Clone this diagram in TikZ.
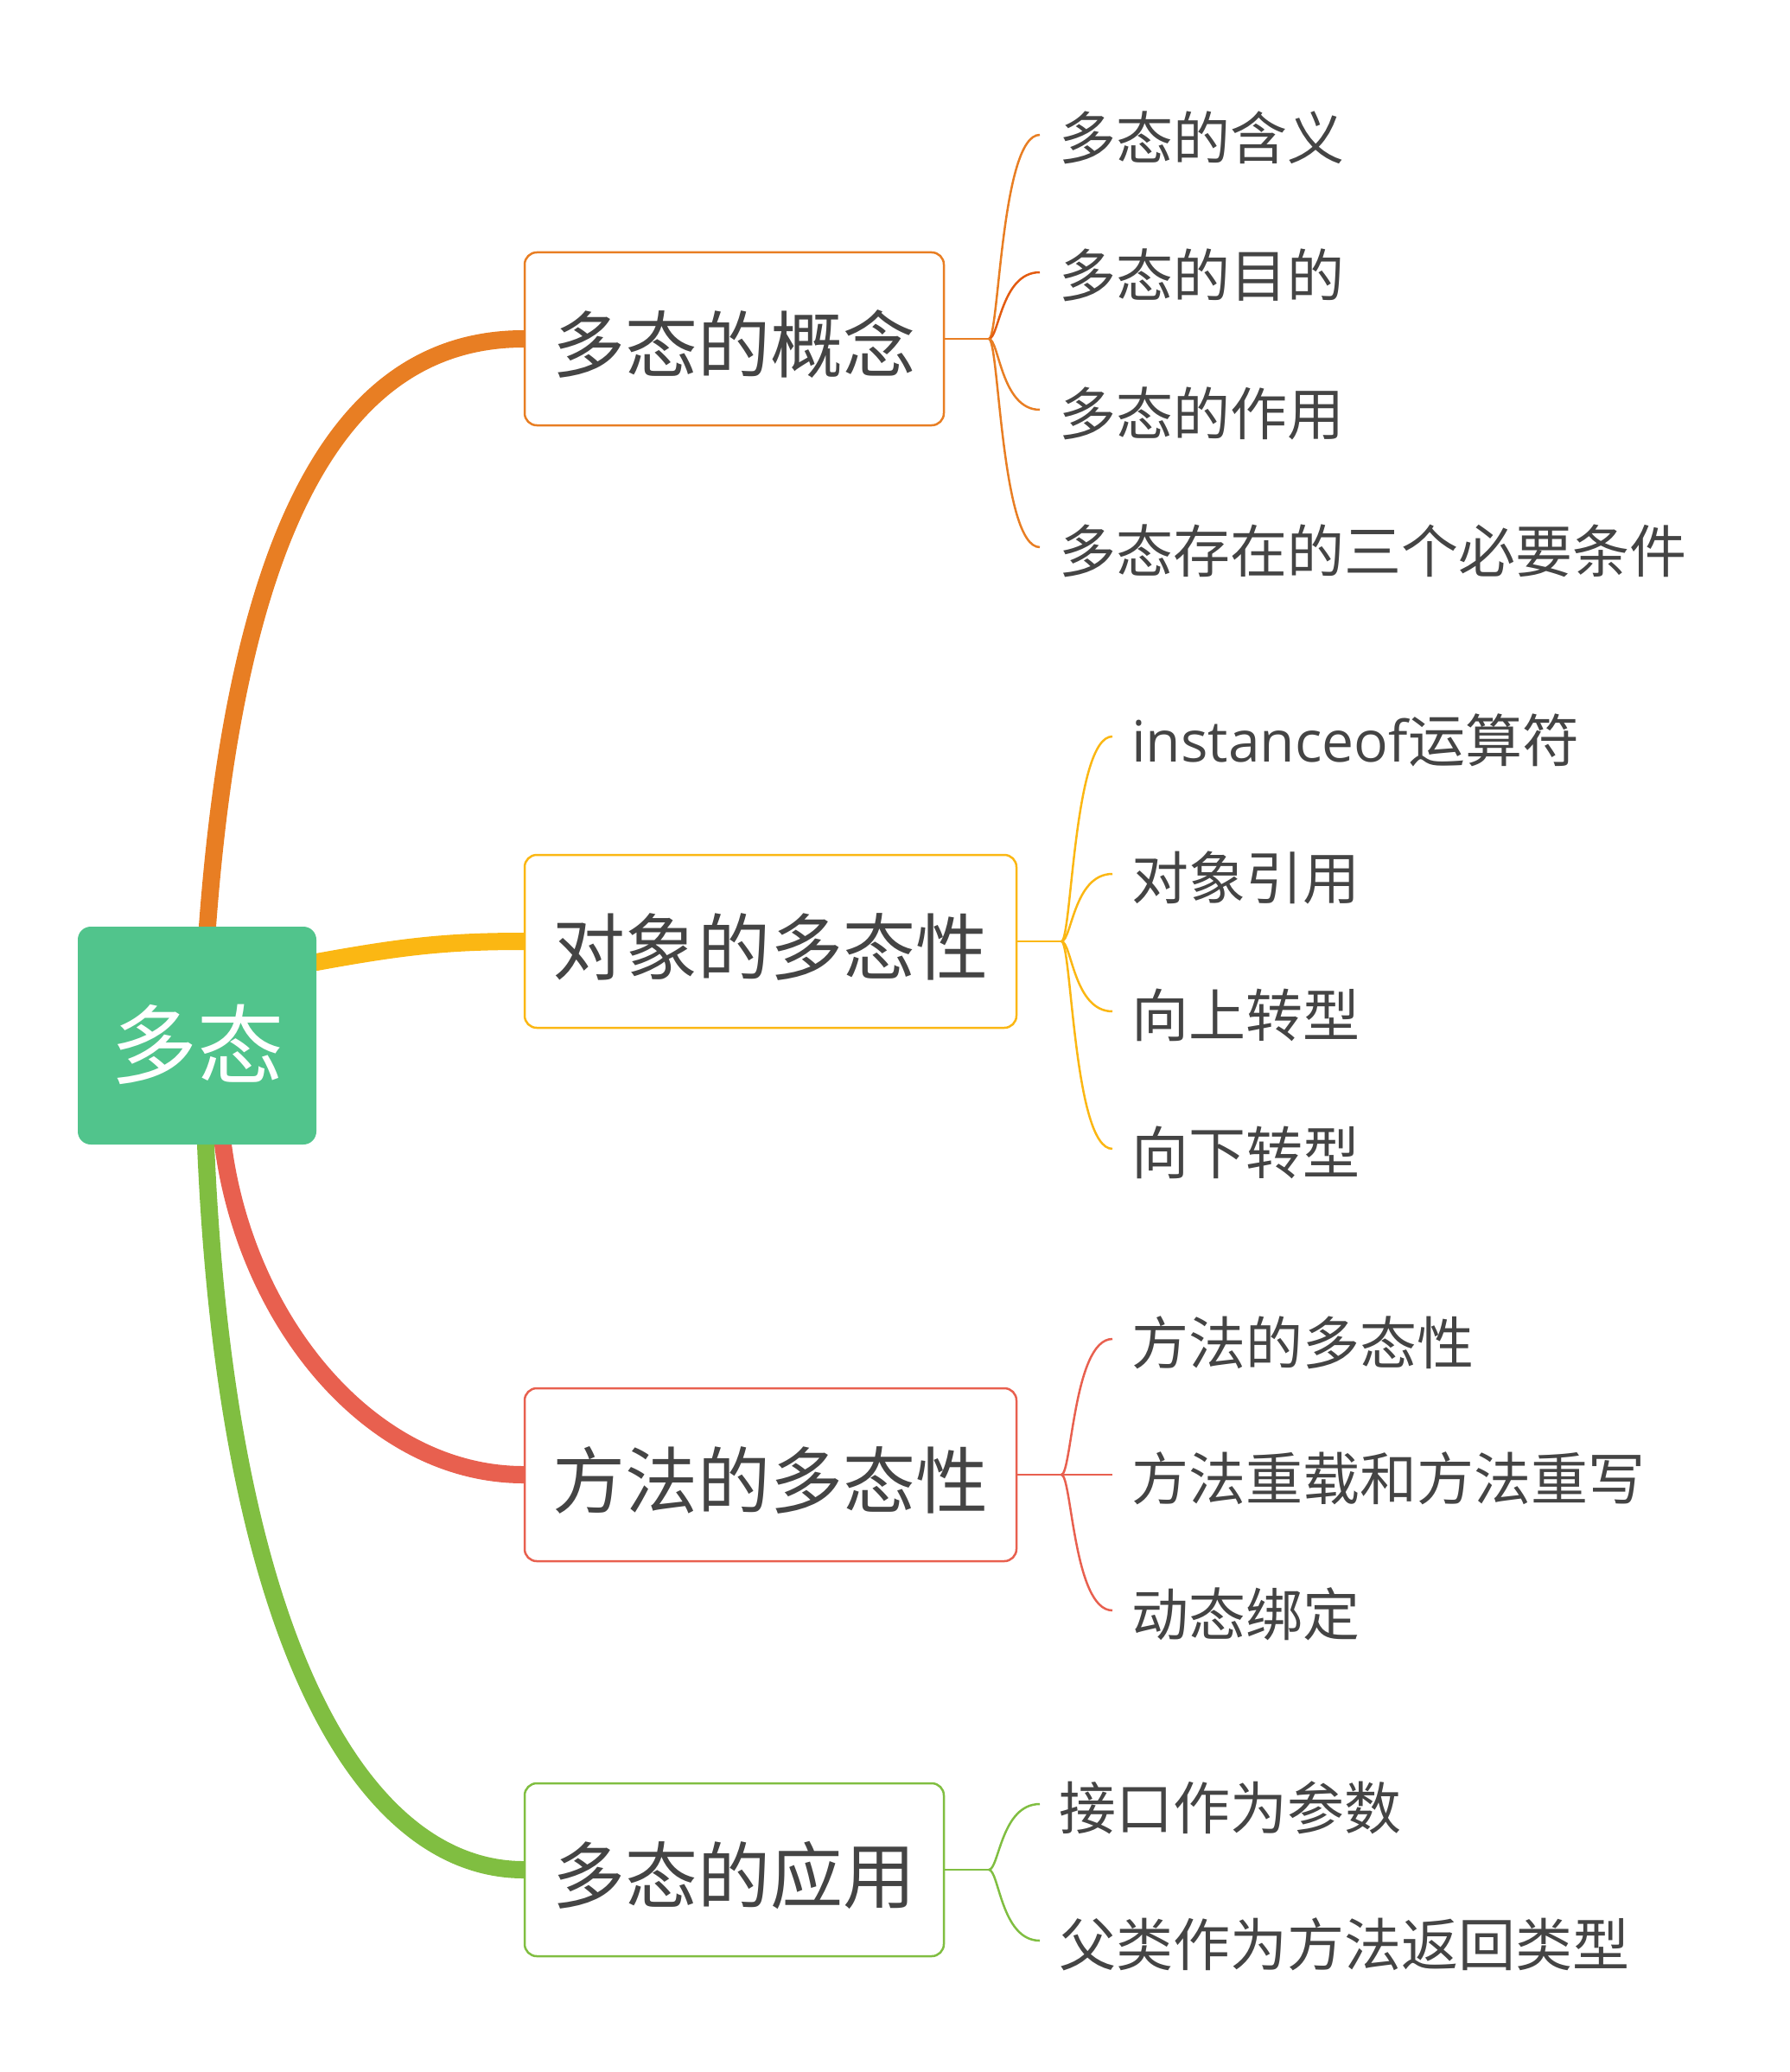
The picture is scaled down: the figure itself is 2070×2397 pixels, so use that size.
\documentclass[tikz,border=0pt]{standalone}
\usepackage{fontspec}
\setmainfont{Noto Sans CJK SC}
\newfontfamily\latfont{Open Sans}
\usetikzlibrary{backgrounds}
\definecolor{corange}{HTML}{E87E23}
\definecolor{corangedk}{HTML}{E35B10}
\definecolor{cyellow}{HTML}{FBB713}
\definecolor{cred}{HTML}{E8604F}
\definecolor{cgreen}{HTML}{80BE41}
\definecolor{croot}{HTML}{51C48C}
\definecolor{textgray}{HTML}{444444}
\begin{document}
\begin{tikzpicture}[x=1pt,y=-1pt,
  rootbox/.style={fill=croot, rounded corners=15pt, minimum width=276pt, minimum height=252pt, inner sep=0pt,
    text=white, font=\fontsize{100pt}{110pt}\selectfont, text height=98pt, text depth=2pt},
  box/.style={draw, fill=white, line width=2.5pt, rounded corners=14pt, minimum height=200pt, inner sep=0pt,
    text=textgray, font=\fontsize{84pt}{92pt}\selectfont, text height=80pt, text depth=4pt},
  leaf/.style={anchor=west, inner xsep=22pt, inner ysep=0pt, text=textgray,
    font=\fontsize{66pt}{72pt}\selectfont, text height=62pt, text depth=4pt},
  trunk/.style={line width=20pt, line cap=round},
  twig/.style={line width=2.5pt}]
\useasboundingbox (0,0) rectangle (2070,2397);

% root and branches
\node[rootbox] (root) at (228,1198) {多态};
\node[box, draw=corange, minimum width=485pt] (b1) at (849.5,392) {多态的概念};
\node[box, draw=cyellow, minimum width=569pt] (b2) at (891.5,1089) {对象的多态性};
\node[box, draw=cred, minimum width=569pt] (b3) at (891.5,1706) {方法的多态性};
\node[box, draw=cgreen, minimum width=485pt] (b4) at (849.5,2163) {多态的应用};

% leaves
\node[leaf] (l11) at (1203,156) {多态的含义};
\node[leaf] (l12) at (1203,315) {多态的目的};
\node[leaf] (l13) at (1203,474) {多态的作用};
\node[leaf] (l14) at (1203,633) {多态存在的三个必要条件};

\node[leaf] (l21) at (1287,852) {{\latfont instanceof}运算符};
\node[leaf] (l22) at (1287,1011) {对象引用};
\node[leaf] (l23) at (1287,1170) {向上转型};
\node[leaf] (l24) at (1287,1329) {向下转型};

\node[leaf] (l31) at (1287,1549) {方法的多态性};
\node[leaf] (l32) at (1287,1706) {方法重载和方法重写};
\node[leaf] (l33) at (1287,1863) {动态绑定};

\node[leaf] (l41) at (1203,2087) {接口作为参数};
\node[leaf] (l42) at (1203,2245) {父类作为方法返回类型};

\coordinate (j1) at (1144,392);
\coordinate (j2) at (1228,1089);
\coordinate (j3) at (1228,1706);
\coordinate (j4) at (1144,2163);

\begin{scope}[on background layer]
  \draw[trunk, corange] ([xshift=12pt]root.north) .. controls (278,560) and (420,392) .. (b1.west);
  \draw[trunk, cyellow] ([yshift=85pt]root.east) .. controls (470,1094) and (520,1089) .. (b2.west);
  \draw[trunk, cred] ([xshift=30pt]root.south) .. controls (285,1530) and (430,1706) .. (b3.west);
  \draw[trunk, cgreen] ([xshift=10pt]root.south) .. controls (262,1900) and (420,2163) .. (b4.west);
\end{scope}

\begin{scope}[twig]
  \draw[corange] (b1.east) -- (j1);
  \draw[corange] (j1) .. controls +(12,0) and +(-45,0) .. (l11.west);
  \draw[corangedk] (j1) .. controls +(12,0) and +(-45,0) .. (l12.west);
  \draw[corange] (j1) .. controls +(12,0) and +(-45,0) .. (l13.west);
  \draw[corange] (j1) .. controls +(12,0) and +(-45,0) .. (l14.west);

  \draw[cyellow] (b2.east) -- (j2);
  \draw[cyellow] (j2) .. controls +(12,0) and +(-45,0) .. (l21.west);
  \draw[cyellow] (j2) .. controls +(12,0) and +(-45,0) .. (l22.west);
  \draw[cyellow] (j2) .. controls +(12,0) and +(-45,0) .. (l23.west);
  \draw[cyellow] (j2) .. controls +(12,0) and +(-45,0) .. (l24.west);

  \draw[cred] (b3.east) -- (j3);
  \draw[cred] (j3) .. controls +(12,0) and +(-45,0) .. (l31.west);
  \draw[cred] (j3) -- (l32.west);
  \draw[cred] (j3) .. controls +(12,0) and +(-45,0) .. (l33.west);

  \draw[cgreen] (b4.east) -- (j4);
  \draw[cgreen] (j4) .. controls +(12,0) and +(-45,0) .. (l41.west);
  \draw[cgreen] (j4) .. controls +(12,0) and +(-45,0) .. (l42.west);
\end{scope}
\end{tikzpicture}
\end{document}
